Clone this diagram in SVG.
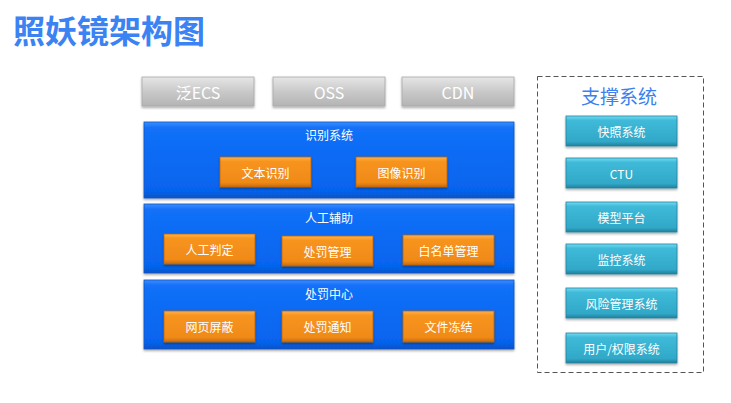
<svg xmlns="http://www.w3.org/2000/svg" width="731" height="403" viewBox="0 0 731 403">
<defs>
<linearGradient id="gGray" x1="0" y1="0" x2="0" y2="1"><stop offset="0" stop-color="#e6e6e6"/><stop offset="0.5" stop-color="#c9c9c9"/><stop offset="1" stop-color="#b4b4b4"/></linearGradient>
<linearGradient id="gBlue" x1="0" y1="0" x2="0" y2="1"><stop offset="0" stop-color="#3d8cff"/><stop offset="0.08" stop-color="#1270f8"/><stop offset="0.9" stop-color="#0664ee"/><stop offset="1" stop-color="#0753c8"/></linearGradient>
<linearGradient id="gOrange" x1="0" y1="0" x2="0" y2="1"><stop offset="0" stop-color="#ffb04a"/><stop offset="0.15" stop-color="#f7941f"/><stop offset="0.85" stop-color="#f08a18"/><stop offset="1" stop-color="#c86a0c"/></linearGradient>
<linearGradient id="gTeal" x1="0" y1="0" x2="0" y2="1"><stop offset="0" stop-color="#6fdcf2"/><stop offset="0.15" stop-color="#3fbad8"/><stop offset="0.85" stop-color="#31a8c8"/><stop offset="1" stop-color="#23809c"/></linearGradient>
<filter id="sh" x="-10%" y="-20%" width="120%" height="150%"><feDropShadow dx="0" dy="1.5" stdDeviation="1.2" flood-color="#000" flood-opacity="0.35"/></filter>
</defs>
<style>
.t{font-family:"Noto Sans CJK SC","Noto Sans",sans-serif;fill:#fff;text-anchor:middle;dominant-baseline:central}
.gray{fill:url(#gGray);stroke:#a8a8a8;stroke-width:0.8;filter:url(#sh)}
.blue{fill:url(#gBlue);stroke:#0a55c0;stroke-width:0.8;filter:url(#sh)}
.org{fill:url(#gOrange);stroke:#b86410;stroke-width:0.8;filter:url(#sh)}
.teal{fill:url(#gTeal);stroke:#24829e;stroke-width:0.8;filter:url(#sh)}
.g16{font-size:16px}
.s12{font-size:12px}
</style>
<rect width="731" height="403" fill="#fff"/>
<text x="13" y="29" font-family="Noto Sans CJK SC,sans-serif" font-size="32" font-weight="bold" fill="#3b82f2" dominant-baseline="central">照妖镜架构图</text>

<g id="ecs"><rect class="gray" x="142" y="77" width="112" height="29"/><text class="t g16" x="198" y="91.5">泛ECS</text></g>
<g id="oss"><rect class="gray" x="273" y="77" width="112" height="29"/><text class="t g16" x="329" y="91.5">OSS</text></g>
<g id="cdn"><rect class="gray" x="402" y="77" width="112" height="29"/><text class="t g16" x="458" y="91.5">CDN</text></g>

<g id="recog"><rect class="blue" x="144" y="122" width="370" height="76"/><text class="t s12" x="329" y="134">识别系统</text></g>
<g id="text-recog"><rect class="org" x="220" y="157" width="91" height="30"/><text class="t s12" x="265.5" y="172">文本识别</text></g>
<g id="img-recog"><rect class="org" x="356" y="157" width="91" height="30"/><text class="t s12" x="401.5" y="172">图像识别</text></g>

<g id="manual"><rect class="blue" x="144" y="204" width="370" height="69"/><text class="t s12" x="329" y="217">人工辅助</text></g>
<g id="judge"><rect class="org" x="164" y="234" width="91" height="30"/><text class="t s12" x="209.5" y="249">人工判定</text></g>
<g id="punish-mgmt"><rect class="org" x="282" y="236" width="91" height="30"/><text class="t s12" x="327.5" y="251">处罚管理</text></g>
<g id="whitelist"><rect class="org" x="403" y="235" width="91" height="30"/><text class="t s12" x="448.5" y="250">白名单管理</text></g>

<g id="punish-center"><rect class="blue" x="144" y="280" width="370" height="69"/><text class="t s12" x="329" y="293">处罚中心</text></g>
<g id="block"><rect class="org" x="164" y="311" width="91" height="31"/><text class="t s12" x="209.5" y="326.5">网页屏蔽</text></g>
<g id="notify"><rect class="org" x="282" y="311" width="91" height="31"/><text class="t s12" x="327.5" y="326.5">处罚通知</text></g>
<g id="freeze"><rect class="org" x="403" y="311" width="91" height="31"/><text class="t s12" x="448.5" y="326.5">文件冻结</text></g>

<g id="support"><rect x="537.5" y="76.5" width="166" height="296" fill="none" stroke="#555" stroke-width="1" stroke-dasharray="5,3"/><text x="619" y="95" font-family="Noto Sans CJK SC,sans-serif" font-size="19" fill="#3b7ff0" text-anchor="middle" dominant-baseline="central">支撑系统</text></g>
<g id="snapshot"><rect class="teal" x="566" y="116" width="111" height="30"/><text class="t s12" x="621.5" y="131">快照系统</text></g>
<g id="ctu"><rect class="teal" x="566" y="158" width="111" height="30"/><text class="t s12" x="621.5" y="173">CTU</text></g>
<g id="model"><rect class="teal" x="566" y="202" width="111" height="30"/><text class="t s12" x="621.5" y="217">模型平台</text></g>
<g id="monitor"><rect class="teal" x="566" y="244" width="111" height="30"/><text class="t s12" x="621.5" y="259">监控系统</text></g>
<g id="risk"><rect class="teal" x="566" y="288" width="111" height="30"/><text class="t s12" x="621.5" y="303">风险管理系统</text></g>
<g id="auth"><rect class="teal" x="566" y="333" width="111" height="30"/><text class="t s12" x="621.5" y="348">用户/权限系统</text></g>
<g id="connectors"/>
</svg>
